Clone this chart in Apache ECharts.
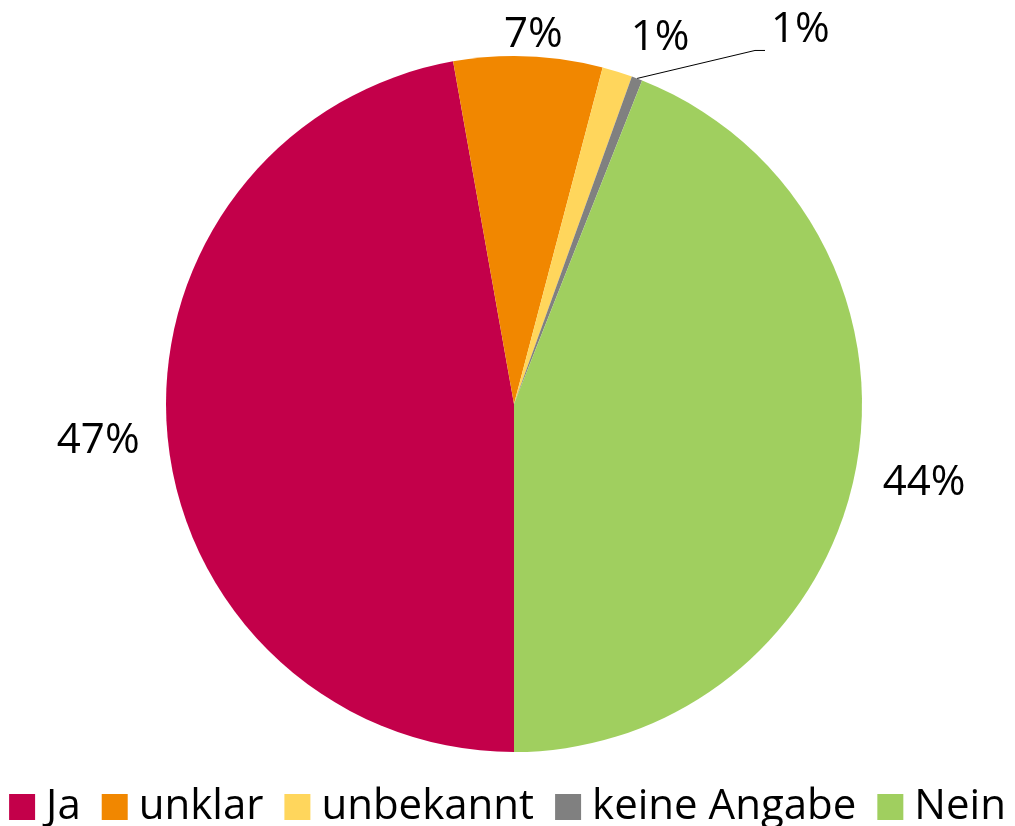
<!DOCTYPE html>
<html>
<head>
    <meta charset="utf-8">
    <title>Ja / Nein</title>
    <script src="https://cdn.jsdelivr.net/npm/echarts@6.0.0/dist/echarts.min.js"></script>
    <style>
        html, body { margin: 0; padding: 0; background: #fff; }
        #main { width: 1015px; height: 826px; }
    </style>
</head>
<body>
<div id="main"></div>
<script>
    // Daten
    var categories = ['Ja', 'unklar', 'unbekannt', 'keine Angabe', 'Nein'];
    var values = [47.2, 6.9, 1.4, 0.5, 44.0];
    var colors = ['#C3004A', '#F18700', '#FFD65C', '#808080', '#A0CF5F'];

    // Lage des Kreises
    var cx = 514, cy = 404, R = 348;
    var total = values.reduce(function (a, b) { return a + b; }, 0);

    // kleine Verschiebungen der Beschriftungen (wie im Original)
    var nudge = [[-4, 5], [3, 0], [27, -14], [0, 0], [4, 10]];

    var chart = echarts.init(document.getElementById('main'));

    var option = {
        animation: false,
        textStyle: { fontFamily: 'Open Sans' },
        legend: {
            data: categories,
            left: 'center',
            top: 779,
            icon: 'rect',
            itemWidth: 26,
            itemHeight: 26,
            itemGap: 21,
            textStyle: { fontSize: 42, color: '#000', lineHeight: 46, padding: [0, 0, 0, 6] }
        },
        series: [{
            type: 'pie',
            center: [cx, cy],
            radius: R,
            startAngle: -90,
            clockwise: true,
            avoidLabelOverlap: false,
            emphasis: { disabled: true },
            label: {
                show: true,
                position: 'outside',
                fontSize: 42,
                color: '#000',
                formatter: function (p) { return Math.round(p.value) + '%'; }
            },
            labelLine: { show: false, lineStyle: { color: '#000', width: 1 } },
            labelLayout: function (params) {
                var i = params.dataIndex;
                var before = 0;
                for (var k = 0; k < i; k++) before += values[k];
                var mid = (180 + (before + values[i] / 2) / total * 360) * Math.PI / 180;
                var s = Math.sin(mid), c = Math.cos(mid);
                var px = cx + R * s, py = cy - R * c;
                if (i === 3) {
                    // Führungslinie für "keine Angabe"
                    return {
                        x: px + 134, y: py - 48,
                        align: 'left', verticalAlign: 'middle',
                        labelLinePoints: [[px, py], [px + 118, py - 28], [px + 128, py - 28]]
                    };
                }
                var w = params.labelRect.width, h = params.labelRect.height;
                return {
                    x: px + s * (w / 2 + 24) + nudge[i][0],
                    y: py - c * (h / 2) + nudge[i][1],
                    align: 'center', verticalAlign: 'middle'
                };
            },
            data: categories.map(function (name, i) {
                return {
                    name: name,
                    value: values[i],
                    itemStyle: { color: colors[i] },
                    labelLine: { show: i === 3 }
                };
            })
        }]
    };

    chart.setOption(option);
</script>
</body>
</html>
